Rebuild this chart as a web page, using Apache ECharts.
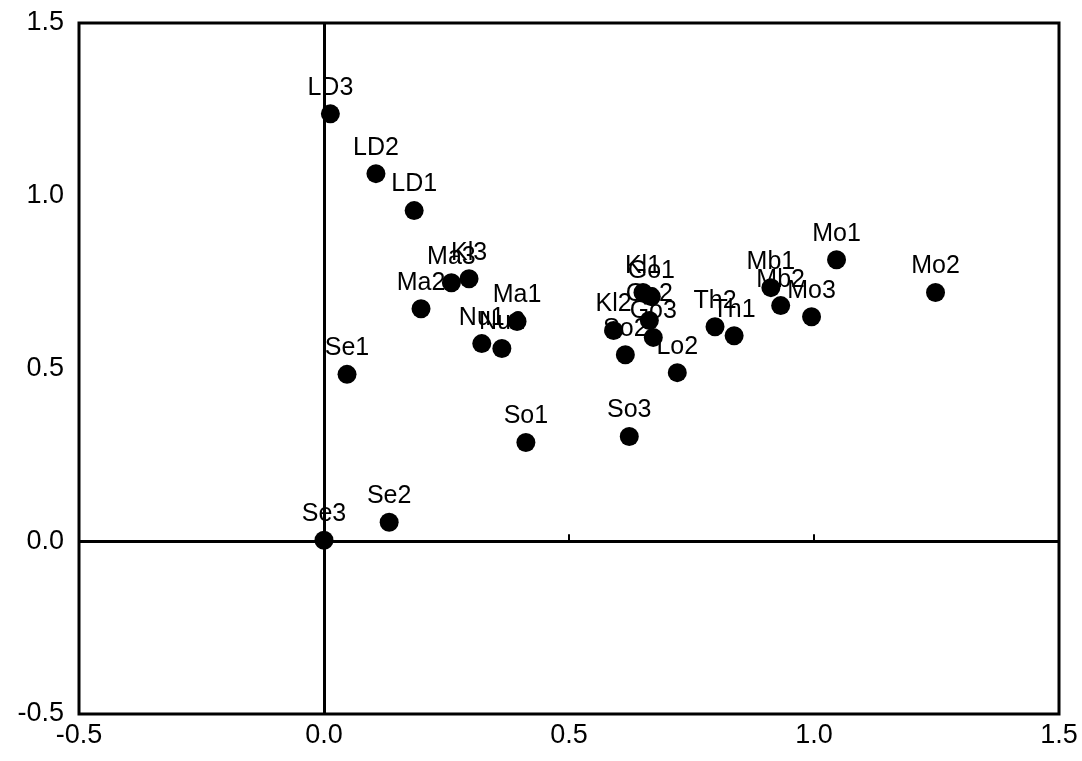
<!DOCTYPE html>
<html>
<head>
<meta charset="utf-8">
<script src="https://cdn.jsdelivr.net/npm/echarts@6/dist/echarts.min.js"></script>
<style>
html,body{margin:0;padding:0;background:#fff;}
#chart{width:1082px;height:761px;}
</style>
</head>
<body>
<div id="chart"></div>
<script>
var names = ["LD3","LD2","LD1","Ma3","Kl3","Ma2","Ma1","Nu1","Nu2","Se1","Se2","Se3","So1","So3",
             "Kl1","Go1","Kl2","So2","Go2","Go3","Lo2","Th2","Th1","Mb1","Mb2","Mo3","Mo1","Mo2"];
var xVals = [0.013,0.106,0.184,0.260,0.296,0.198,0.394,0.322,0.363,0.047,0.133,0.000,0.412,0.623,
             0.651,0.668,0.591,0.615,0.664,0.672,0.721,0.798,0.837,0.912,0.932,0.995,1.046,1.248];
var yVals = [1.237,1.064,0.957,0.748,0.760,0.673,0.636,0.572,0.558,0.483,0.055,0.003,0.286,0.303,
             0.720,0.708,0.610,0.540,0.639,0.590,0.488,0.621,0.595,0.734,0.682,0.650,0.815,0.720];
var xTicks = [-0.5, 0.0, 0.5, 1.0, 1.5];
var yTicks = [-0.5, 0.0, 0.5, 1.0, 1.5];

var pts = names.map(function(n,i){ return {name:n, value:[xVals[i], yVals[i]]}; });

var chart = echarts.init(document.getElementById('chart'), null, {renderer:'canvas'});
var FONT = 'Liberation Sans, Arial, sans-serif';
chart.setOption({
  backgroundColor:'#fff',
  animation:false,
  grid:{left:79, right:23, top:23, bottom:47, show:true, borderColor:'#000', borderWidth:3, backgroundColor:'transparent'},
  xAxis:{
    type:'value', min:xTicks[0], max:xTicks[xTicks.length-1], interval:0.5,
    axisLine:{show:false}, splitLine:{show:false},
    axisTick:{show:true, inside:true, length:7, lineStyle:{color:'#000', width:2}},
    axisLabel:{color:'#000', fontSize:27, fontFamily:FONT, margin:8,
      formatter:function(v){ return v.toFixed(1); }}
  },
  yAxis:{
    type:'value', min:yTicks[0], max:yTicks[yTicks.length-1], interval:0.5,
    axisLine:{show:false}, splitLine:{show:false},
    axisTick:{show:false},
    axisLabel:{color:'#000', fontSize:27, fontFamily:FONT, margin:15,
      formatter:function(v){ return v.toFixed(1); }}
  },
  series:[{
    type:'scatter',
    symbol:'circle', symbolSize:19,
    itemStyle:{color:'#000', opacity:1},
    data:pts,
    label:{show:true, position:'top', distance:4, color:'#000', opacity:1, fontSize:25, fontFamily:FONT,
      formatter:function(p){ return p.name; }},
    emphasis:{disabled:true},
    markLine:{
      silent:true, symbol:['none','none'], label:{show:false},
      lineStyle:{color:'#000', width:3, type:'solid', opacity:1},
      data:[{xAxis:0},{yAxis:0}]
    },
    z:3
  }]
});
</script>
</body>
</html>
